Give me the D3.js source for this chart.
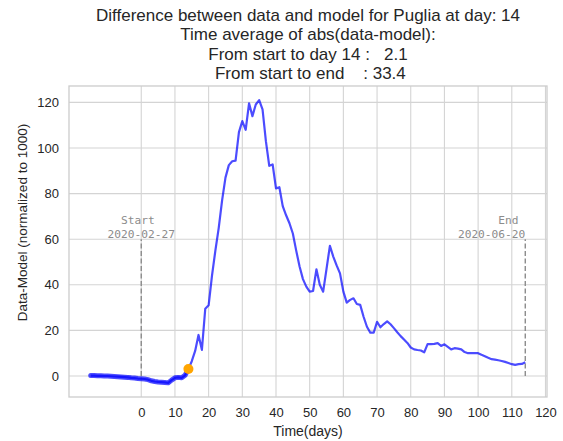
<!DOCTYPE html>
<html>
<head>
<meta charset="utf-8">
<script src="https://cdn.jsdelivr.net/npm/d3@7"></script>
<style>
  html, body { margin: 0; padding: 0; background: #fff; }
  svg text { white-space: pre; }
</style>
</head>
<body>
<svg id="chart" width="563" height="441"></svg>
<script>
// Daily difference between data and model (normalized to 1000), Puglia
const firstDay = -15;
const diffValues = [
  0.2, 0.2, 0.1, 0.1, 0.0, 0.0, -0.1, -0.2, -0.3, -0.4,
  -0.5, -0.6, -0.8, -0.9, -1.1, -1.2, -1.3, -1.6, -2.1, -2.4,
  -2.6, -2.7, -2.8, -3.0, -1.8, -0.8, -0.6, -0.8, 0.3, 3.1,
  6.5, 11, 18, 11.5, 29.5, 31, 44, 55, 65, 77,
  87, 92.5, 94.2, 94.5, 107, 111.8, 108, 119.6, 114, 119.1,
  121, 117, 103, 92.2, 92.8, 82.3, 82.8, 74.5, 70.5, 67,
  62.5, 55, 48, 42.5, 39.2, 37, 37.3, 46.8, 40, 37,
  47, 57.1, 52.4, 48.5, 45, 37, 32.2, 33.4, 34.1, 31.6,
  31.2, 26, 21.6, 19, 19, 23.8, 21.4, 22.8, 24, 22.7,
  21, 19.2, 17.5, 16, 14.5, 12.5, 11.7, 11.4, 11.2, 10.4,
  14, 14, 14.1, 14.4, 13.2, 13.9, 12.8, 11.7, 12.2, 12,
  11.7, 10.5, 10, 10, 10, 10, 9.3, 8.7, 8, 7.4,
  7.2, 6.9, 6.6, 6.2, 5.7, 5.2, 4.9, 5.2, 5.3, 6.0
];
const currentDay = 14;
const startDay = 0, endDay = 114;
const startLabel = ["Start ", "2020-02-27"];
const endLabel = ["End ", "2020-06-20"];
const xTicks = [0, 10, 20, 30, 40, 50, 60, 70, 80, 90, 100, 110, 120];
const yTicks = [0, 20, 40, 60, 80, 100, 120];
const titleLines = [
  "Difference between data and model for Puglia at day: 14",
  "Time average of abs(data-model):",
  "From start to day 14 :   2.1",
  " From start to end    : 33.4"
];
const xLabel = "Time(days)";
const yLabel = "Data-Model (normalized to 1000)";

const series = diffValues.map((v, i) => ({ day: firstDay + i, value: v }));

const svg = d3.select("#chart");
const plot = { left: 69, right: 547, top: 86, bottom: 397 };

// Axis limits padded by 5% of the data range on each side
function padded(ext) {
  const m = (ext[1] - ext[0]) * 0.05;
  return [ext[0] - m, ext[1] + m];
}
const x = d3.scaleLinear()
  .domain(padded(d3.extent(series, d => d.day)))
  .range([plot.left, plot.right]);
const y = d3.scaleLinear()
  .domain(padded(d3.extent(series, d => d.value)))
  .range([plot.bottom, plot.top]);

const gridColor = "#d4d4d4";
const sans = "'Liberation Sans', Arial, sans-serif";

// Grid
const grid = svg.append("g");
grid.selectAll("line.vx").data(xTicks).join("line")
  .attr("x1", d => x(d)).attr("x2", d => x(d))
  .attr("y1", plot.top).attr("y2", plot.bottom)
  .attr("stroke", gridColor).attr("stroke-width", 1.1);
grid.selectAll("line.hy").data(yTicks).join("line")
  .attr("x1", plot.left).attr("x2", plot.right)
  .attr("y1", d => y(d)).attr("y2", d => y(d))
  .attr("stroke", gridColor).attr("stroke-width", 1.1);

// Frame
svg.append("rect")
  .attr("x", plot.left).attr("y", plot.top)
  .attr("width", plot.right - plot.left).attr("height", plot.bottom - plot.top)
  .attr("fill", "none").attr("stroke", "#cccccc").attr("stroke-width", 1.3);

// Axes (tick labels only, seaborn whitegrid look)
const xAxis = svg.append("g")
  .attr("transform", `translate(0,${plot.bottom})`)
  .call(d3.axisBottom(x).tickValues(xTicks).tickSize(0).tickPadding(11));
const yAxis = svg.append("g")
  .attr("transform", `translate(${plot.left},0)`)
  .call(d3.axisLeft(y).tickValues(yTicks).tickSize(0).tickPadding(10));
[xAxis, yAxis].forEach(g => {
  g.select(".domain").remove();
  g.selectAll("text")
    .attr("fill", "#262626")
    .style("font-family", sans)
    .style("font-size", "13px");
});

// Start / end markers
const markerColor = "#8c8c8c";
const mono = "'DejaVu Sans Mono', monospace";
[[startDay, startLabel, "middle"], [endDay, endLabel, "end"]].forEach(([day, lines, anchor]) => {
  svg.append("line")
    .attr("x1", x(day)).attr("x2", x(day))
    .attr("y1", y(0)).attr("y2", y(60))
    .attr("stroke", markerColor).attr("stroke-width", 1.4)
    .attr("stroke-dasharray", "5,2.5");
  const t = svg.append("text")
    .attr("fill", markerColor)
    .style("font-family", mono)
    .style("font-size", "11.2px")
    .attr("text-anchor", anchor);
  lines.forEach((s, i) => {
    t.append("tspan")
      .attr("x", x(day))
      .attr("y", y(60) - 1.5 - (lines.length - 1 - i) * 13.4)
      .text(s);
  });
});

// Difference curve
const line = d3.line().x(d => x(d.day)).y(d => y(d.value));
svg.append("path")
  .datum(series.filter(d => d.day <= currentDay))
  .attr("d", line)
  .attr("fill", "none").attr("stroke", "blue").attr("stroke-opacity", 0.7)
  .attr("stroke-width", 5).attr("stroke-linejoin", "round").attr("stroke-linecap", "round");
svg.append("path")
  .datum(series)
  .attr("d", line)
  .attr("fill", "none").attr("stroke", "blue").attr("stroke-opacity", 0.7)
  .attr("stroke-width", 2.2).attr("stroke-linejoin", "round");

// Current day marker
const current = series.find(d => d.day === currentDay);
svg.append("circle")
  .attr("cx", x(current.day)).attr("cy", y(current.value))
  .attr("r", 5).attr("fill", "orange");

// Title
const title = svg.append("text")
  .attr("text-anchor", "middle")
  .attr("fill", "#262626")
  .style("font-family", sans)
  .style("font-size", "17px");
titleLines.forEach((s, i) => {
  title.append("tspan")
    .attr("x", (plot.left + plot.right) / 2)
    .attr("y", 20.5 + i * 19.5)
    .text(s);
});

// Axis labels
svg.append("text")
  .attr("x", (plot.left + plot.right) / 2).attr("y", 435.5)
  .attr("text-anchor", "middle").attr("fill", "#262626")
  .style("font-family", sans).style("font-size", "14px")
  .text(xLabel);
svg.append("text")
  .attr("transform", `translate(26.5,222.5) rotate(-90)`)
  .attr("text-anchor", "middle").attr("fill", "#262626")
  .style("font-family", sans).style("font-size", "13.5px")
  .text(yLabel);
</script>
</body>
</html>
